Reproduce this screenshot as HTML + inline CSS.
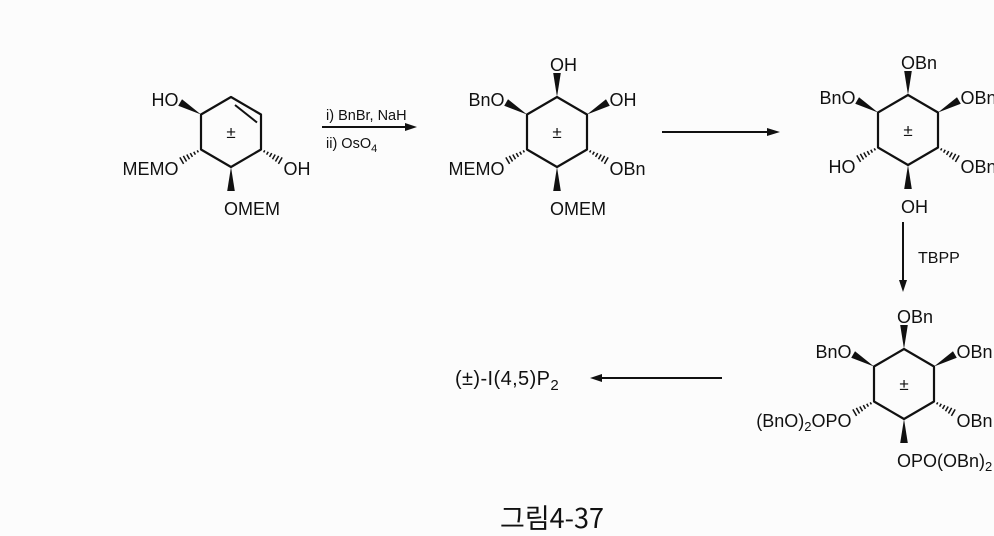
<!DOCTYPE html>
<html><head><meta charset="utf-8"><style>
html,body{margin:0;padding:0;background:#fcfcfc;}
svg{display:block}
text{font-family:"Liberation Sans",Arial,sans-serif;fill:#111}
</style></head><body>
<svg id="s" width="994" height="536" viewBox="0 0 994 536" xmlns="http://www.w3.org/2000/svg">
<g stroke="#111" stroke-width="2" fill="none">
<line x1="322" y1="127" x2="410" y2="127"/>
<line x1="662" y1="132" x2="772" y2="132"/>
<line x1="903" y1="222" x2="903" y2="284"/>
<line x1="722" y1="378" x2="598" y2="378"/>
</g>
<g fill="#111">
<polygon points="417,127 405,123 405,131"/>
<polygon points="780,132 767,128 767,136"/>
<polygon points="903,292 899,280 907,280"/>
<polygon points="590,378 602,374 602,382"/>
</g>
<text x="326" y="120" font-size="14.5">i) BnBr, NaH</text>
<text x="326" y="148" font-size="14.5">ii) OsO<tspan font-size="11" dy="4">4</tspan></text>
<text x="918" y="263" font-size="16">TBPP</text>
<text x="455" y="385" font-size="20" letter-spacing="0.4">(±)-I(4,5)P<tspan font-size="15" dy="5">2</tspan></text>
<text x="500" y="528" font-size="27" style="font-family:'Noto Sans CJK KR','Liberation Sans',sans-serif">그림4-37</text>
<g id="rings"></g>
</svg>
<script>
var g=document.getElementById('rings');var NS='http://www.w3.org/2000/svg';
function el(t,a,txt){var e=document.createElementNS(NS,t);for(var k in a)e.setAttribute(k,a[k]);if(txt!==undefined)e.innerHTML=txt;g.appendChild(e);return e;}
function ring(cx,cy,subs,dbl){
 var w=30,h=17.5,H=35;
 var v=[[cx,cy-H],[cx+w,cy-h],[cx+w,cy+h],[cx,cy+H],[cx-w,cy+h],[cx-w,cy-h]];
 var p=v.map(function(a){return a.join(',')}).join(' ');
 el('polygon',{points:p,fill:'none',stroke:'#111','stroke-width':2.2,'stroke-linejoin':'round'});
 if(dbl){el('line',{x1:cx+4,y1:cy-H+8,x2:cx+w-4,y2:cy-h+8,stroke:'#111','stroke-width':2});}
 el('text',{x:cx,y:cy+6,'text-anchor':'middle','font-size':17},'±');
 var dirs=[[0,-1],[0.87,-0.5],[0.87,0.5],[0,1],[-0.87,0.5],[-0.87,-0.5]];
 for(var i=0;i<6;i++){var s=subs[i];if(!s)continue;
  var x=v[i][0],y=v[i][1],d=dirs[i],L=24,ex=x+d[0]*L,ey=y+d[1]*L,px=-d[1],py=d[0];
  if(s[0]=='w'){el('polygon',{points:x+','+y+' '+(ex+px*3.8)+','+(ey+py*3.8)+' '+(ex-px*3.8)+','+(ey-py*3.8),fill:'#111'});}
  else{for(var k=1;k<=6;k++){var t=k/6.5,hx=x+d[0]*L*t,hy=y+d[1]*L*t,hw=0.6+3.4*t;
   el('line',{x1:hx+px*hw,y1:hy+py*hw,x2:hx-px*hw,y2:hy-py*hw,stroke:'#111','stroke-width':1.5});}}
  var lx=ex+d[0]*3,ly=ey+d[1]*3,anchor='middle',dy=7;
  if(i==0){ly-=6;anchor='start';lx-=7;}
  if(i==3){ly+=14;anchor='start';lx-=7;}
  if(i==1||i==2){anchor='start';lx-=1;}
  if(i==4||i==5){anchor='end';lx+=1;}
  if(i==1||i==5){ly-=2;}
  if(i==2||i==4){ly+=5;}
  el('text',{x:lx,y:ly+dy,'text-anchor':anchor,'font-size':18},s.slice(1));
 }
}
ring(231,132,[null,null,'hOH','wOMEM','hMEMO','wHO'],true);
ring(557,132,['wOH','wOH','hOBn','wOMEM','hMEMO','wBnO'],false);
ring(908,130,['wOBn','wOBn','hOBn','wOH','hHO','wBnO'],false);
ring(904,384,['wOBn','wOBn','hOBn','wOPO(OBn)<tspan font-size="13" dy="4">2</tspan>','h(BnO)<tspan font-size="13" dy="4">2</tspan><tspan dy="-4">OPO</tspan>','wBnO'],false);
</script>
</body></html>
